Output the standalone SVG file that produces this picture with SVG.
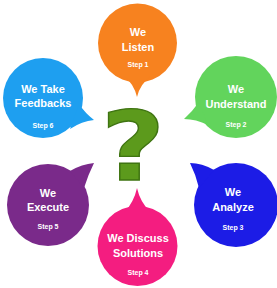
<svg xmlns="http://www.w3.org/2000/svg" width="277" height="288" viewBox="0 0 277 288">
<style>
.t{font-family:"Liberation Sans",Arial,sans-serif;font-weight:bold;font-size:11px;fill:#fff;text-anchor:middle}
.s{font-family:"Liberation Sans",Arial,sans-serif;font-weight:bold;font-size:7px;fill:#fff;text-anchor:middle}
.q{font-family:"DejaVu Sans",sans-serif;font-weight:bold;font-size:96px;fill:#5c9a1c;stroke:#3f7412;stroke-width:1.3;text-anchor:middle}
</style>
<rect width="277" height="288" fill="#fff"/>
<g id="connectors"></g>
<g id="step1">
<circle cx="137.5" cy="43" r="39.5" fill="#f7821f"/>
<path d="M124 76 Q134 84 137 97 Q140 84 151 76 Z" fill="#f7821f"/>
<text class="t" x="138" y="36">We</text>
<text class="t" x="138" y="51">Listen</text>
<text class="s" x="138" y="67">Step 1</text>
</g>
<g id="step2">
<circle cx="236" cy="97" r="41" fill="#62d45c"/>
<path d="M199 102 Q192 112 184 119 Q196 119 208 125 Z" fill="#62d45c"/>
<text class="t" x="236" y="93">We</text>
<text class="t" x="236" y="108">Understand</text>
<text class="s" x="236" y="127">Step 2</text>
</g>
<g id="step3">
<circle cx="236" cy="205" r="42" fill="#1c1ce6"/>
<path d="M214 170 Q202 163 190 163 Q196 175 199 188 Z" fill="#1c1ce6"/>
<text class="t" x="233" y="196">We</text>
<text class="t" x="233" y="211">Analyze</text>
<text class="s" x="233" y="230">Step 3</text>
</g>
<g id="step4">
<circle cx="137.5" cy="246" r="40" fill="#f41d80"/>
<path d="M124 213 Q134 202 137 188 Q140 202 151 213 Z" fill="#f41d80"/>
<text class="t" x="138" y="242">We Discuss</text>
<text class="t" x="138" y="257">Solutions</text>
<text class="s" x="138" y="275">Step 4</text>
</g>
<g id="step5">
<circle cx="48" cy="205" r="41" fill="#7a2a8a"/>
<path d="M70 171 Q82 164 94 163 Q88 175 84 188 Z" fill="#7a2a8a"/>
<text class="t" x="48" y="197">We</text>
<text class="t" x="48" y="211">Execute</text>
<text class="s" x="48" y="229">Step 5</text>
</g>
<g id="step6">
<circle cx="43" cy="98" r="40" fill="#1e9ff0"/>
<path d="M79 104 Q85 113 94 120 Q82 121 70 129 Z" fill="#1e9ff0"/>
<text class="t" x="43" y="93">We Take</text>
<text class="t" x="43" y="107">Feedbacks</text>
<text class="s" x="43" y="128">Step 6</text>
</g>
<g id="question">
<text class="q" transform="translate(133 180) scale(1.15 1)" x="0" y="0">?</text>
</g>
</svg>
